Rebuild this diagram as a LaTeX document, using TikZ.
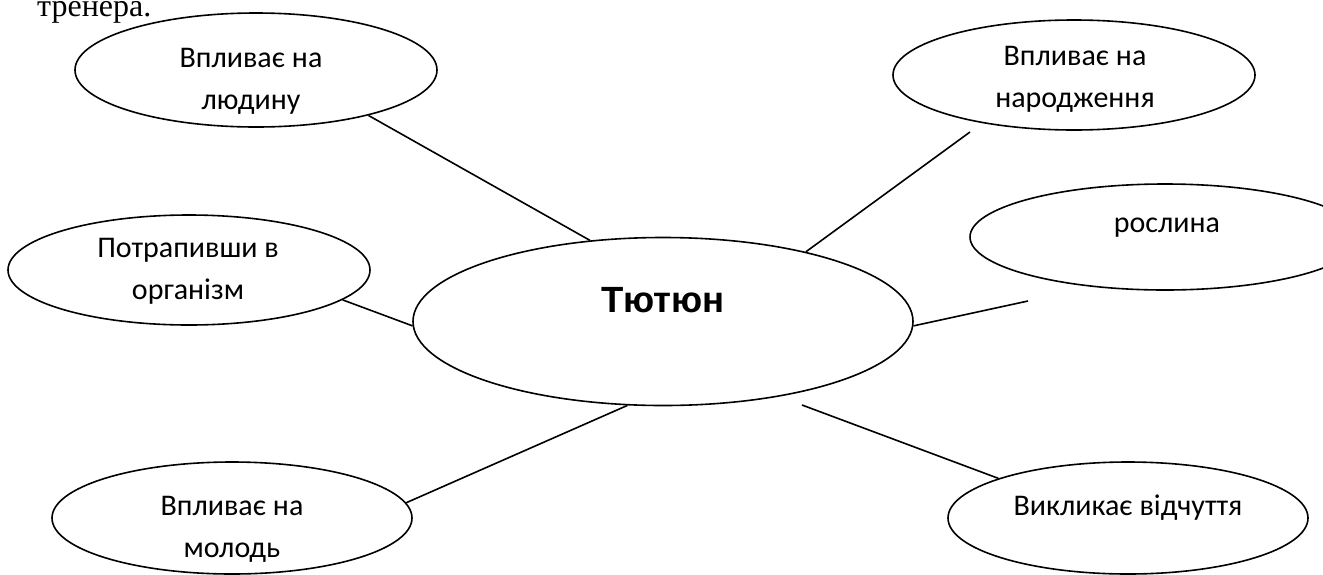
\documentclass[tikz,border=0pt]{standalone}
\usepackage{fontspec}
\usetikzlibrary{shapes.geometric}
\newfontfamily\labelfont{Carlito}
\newfontfamily\titlefont{Liberation Sans}
\newfontfamily\serifpart{Liberation Serif}
\tikzset{
  bubble/.style={draw, ellipse, line width=1.6pt, inner sep=0pt},
  link/.style={line width=1.6pt},
  lbl/.style={anchor=base, inner sep=0pt, font=\labelfont\fontsize{30}{34}\selectfont},
}
\begin{document}
\begin{tikzpicture}[x=1pt, y=-1pt]
\useasboundingbox (0,0) rectangle (1323,574);
\clip (0,0) rectangle (1323,574);
% stray text from the page
\node[anchor=base west, inner sep=0pt, font=\serifpart\fontsize{32}{36}\selectfont] (tr) at (37,16) {тренера.};
% central ellipse
\node[bubble, minimum width=500pt, minimum height=168pt] (C) at (663,321.5) {};
\node[anchor=base, inner sep=0pt, font=\titlefont\bfseries\fontsize{36.5}{40}\selectfont] (Ct) at (663,312) {Тютюн};
% outer ellipses
\node[bubble, minimum width=362pt, minimum height=114pt] (L1) at (256,70) {};
\node[bubble, minimum width=362pt, minimum height=110pt] (L2) at (1074,75) {};
\node[bubble, minimum width=390pt, minimum height=106pt] (L3) at (1165,237) {};
\node[bubble, minimum width=362pt, minimum height=110pt] (L4) at (189,270) {};
\node[bubble, minimum width=360pt, minimum height=112pt] (L5) at (232,518) {};
\node[bubble, minimum width=360pt, minimum height=112pt] (L6) at (1128,518) {};
% texts
\node[lbl] (L1a) at (251,67) {Впливає на};
\node[lbl] (L1b) at (251,109) {людину};
\node[lbl] (L2a) at (1075,65) {Впливає на};
\node[lbl] (L2b) at (1075,107) {народження};
\node[lbl] (L3a) at (1167,232) {рослина};
\node[lbl] (L4a) at (188,257) {Потрапивши в};
\node[lbl] (L4b) at (188,299) {організм};
\node[lbl] (L5a) at (232,515) {Впливає на};
\node[lbl] (L5b) at (232,557) {молодь};
\node[lbl] (L6a) at (1128,515) {Викликає відчуття};
% free ends
\coordinate (e2) at (970,132);
\coordinate (e3) at (1028,301);
\coordinate (e6) at (802,405);
% connectors
\draw[link] (L1.-22.5) -- (C.132.7);
\draw[link] (e2) -- (C.26.9);
\draw[link] (e3) -- (C.-1);
\draw[link] (L4.-11.7) -- (C.181);
\draw[link] (L5.5.1) -- (C.247.3);
\draw[link] (e6) -- (L6.163.3);
\end{tikzpicture}
\end{document}
